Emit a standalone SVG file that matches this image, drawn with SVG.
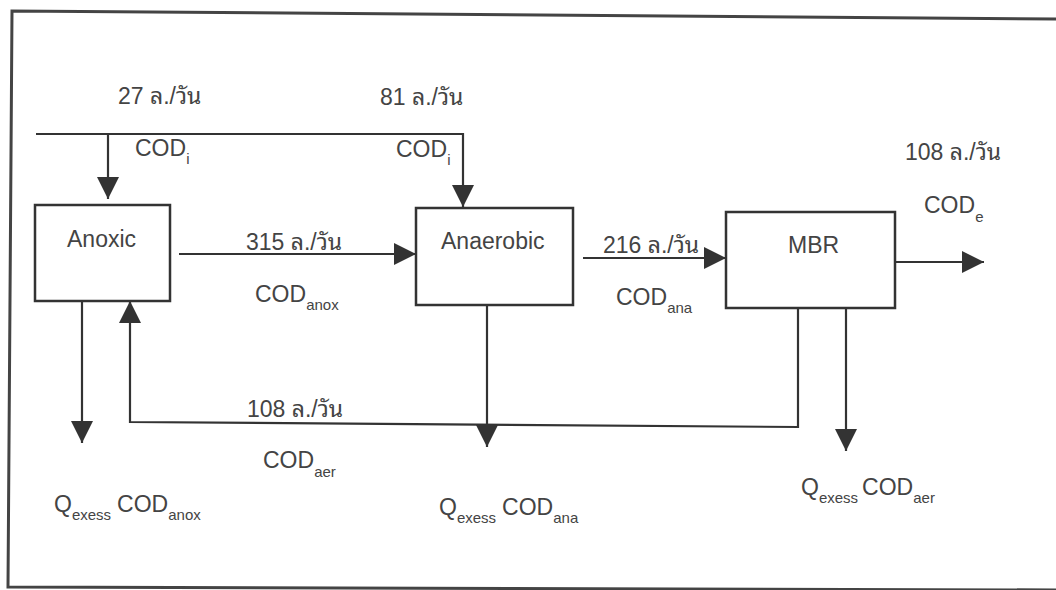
<svg xmlns="http://www.w3.org/2000/svg" width="1056" height="590" viewBox="0 0 1056 590">
<style>
text{font-family:"Liberation Sans","Noto Sans Thai Looped","Loma","Garuda","Norasi","Noto Sans Thai","Noto Sans","DejaVu Sans",sans-serif;fill:#444;font-size:23px}
.sub{font-size:15px}
.box{fill:#fff;stroke:#333;stroke-width:2.5}
.ln{fill:none;stroke:#333;stroke-width:2.2;marker-end:url(#ah)}
.frame{fill:none;stroke:#444;stroke-width:3}
</style>
<defs>
<marker id="ah" viewBox="0 0 22 22" refX="22" refY="11" markerWidth="22" markerHeight="22" markerUnits="userSpaceOnUse" orient="auto">
<path d="M0,0 L22,11 L0,22 Z" fill="#333"/>
</marker>
</defs>
<rect width="1056" height="590" fill="#fff"/>
<path class="frame" d="M1060,19 L12,11 L8,587 L1060,590"/>
<g id="connectors">
<path class="ln" d="M36,134 H463 V207"/>
<path class="ln" d="M108,134 V199"/>
<path class="ln" d="M179,254 H416"/>
<path class="ln" d="M583,258 H726"/>
<path class="ln" d="M895,262 H984"/>
<path class="ln" d="M798,308 V427 L130,422 V301"/>
<path class="ln" d="M82,301 V443"/>
<path class="ln" d="M487,305 V447"/>
<path class="ln" d="M846,308 V451"/>
</g>
<g id="anoxic">
<rect class="box" x="35" y="205" width="135" height="96"/>
<text x="67" y="247">Anoxic</text>
</g>
<g id="anaerobic">
<rect class="box" x="416" y="208" width="157" height="97"/>
<text x="441" y="249">Anaerobic</text>
</g>
<g id="mbr">
<rect class="box" x="726" y="212" width="169" height="96"/>
<text x="788" y="253">MBR</text>
</g>
<g id="labels">
<text x="118" y="104">27 ล./วัน</text>
<text x="380" y="105">81 ล./วัน</text>
<text x="135" y="156">COD<tspan class="sub" dy="8">i</tspan></text>
<text x="396" y="157">COD<tspan class="sub" dy="8">i</tspan></text>
<text x="246" y="250">315 ล./วัน</text>
<text x="255" y="302">COD<tspan class="sub" dy="8">anox</tspan></text>
<text x="603" y="253">216 ล./วัน</text>
<text x="616" y="305">COD<tspan class="sub" dy="8">ana</tspan></text>
<text x="905" y="160">108 ล./วัน</text>
<text x="924" y="213">COD<tspan class="sub" dy="9">e</tspan></text>
<text x="247" y="417">108 ล./วัน</text>
<text x="263" y="468">COD<tspan class="sub" dy="9">aer</tspan></text>
<text x="54" y="512">Q<tspan class="sub" dy="8">exess</tspan><tspan dx="6" dy="-8">COD</tspan><tspan class="sub" dy="8">anox</tspan></text>
<text x="439" y="515">Q<tspan class="sub" dy="8">exess</tspan><tspan dx="6" dy="-8">COD</tspan><tspan class="sub" dy="8">ana</tspan></text>
<text x="801" y="495">Q<tspan class="sub" dy="8">exess</tspan><tspan dx="4" dy="-8">COD</tspan><tspan class="sub" dy="8">aer</tspan></text>
</g>
</svg>
